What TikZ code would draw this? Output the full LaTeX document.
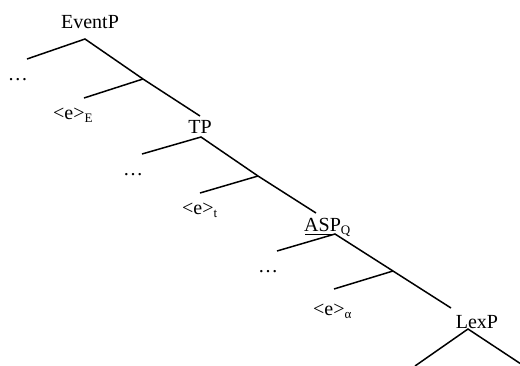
\documentclass[tikz,border=0pt]{standalone}
\usepackage{fontspec}
\setmainfont{Liberation Serif}
\newcommand{\lowsub}[1]{\raisebox{-3.5pt}{\fontsize{13}{13}\selectfont #1}}
\begin{document}
\begin{tikzpicture}[x=1pt,y=-1pt,
  lab/.style={inner sep=0pt,font=\fontsize{20}{21}\selectfont},
  br/.style={line width=1.5pt}]
\useasboundingbox (0,0) rectangle (520,365);
% labels
\node[lab,anchor=base] (ev) at (90,28) {EventP};
\node[lab,anchor=base] (tp) at (200,133) {TP};
\node[lab,anchor=base west] (asp) at (304,231) {ASP\lowsub{Q}};
\node[lab,anchor=base] (lex) at (477,328) {LexP};
\node[lab,anchor=base] (d1) at (18,80) {\ldots};
\node[lab,anchor=base] (d2) at (133,175) {\ldots};
\node[lab,anchor=base] (d3) at (268,272) {\ldots};
\node[lab,anchor=base west] (e1) at (53,119) {<e>\lowsub{E}};
\node[lab,anchor=base west] (e2) at (182,214) {<e>\lowsub{t}};
\node[lab,anchor=base west] (e3) at (313,315) {<e>\lowsub{α}};
% tree points
\coordinate (evtop) at (85,39);
\coordinate (evl) at (27,59);
\coordinate (m1) at (143,79);
\coordinate (m1l) at (84,98);
\coordinate (tpin) at (200,116);
\coordinate (tptop) at (201,137);
\coordinate (tpl) at (142,154);
\coordinate (m2) at (258,176);
\coordinate (m2l) at (200,193);
\coordinate (aspin) at (316,213);
\coordinate (ul) at (305,234);
\coordinate (asptop) at (335,234);
\coordinate (aspl) at (277,251);
\coordinate (m3) at (393,271);
\coordinate (m3l) at (334,289);
\coordinate (lexin) at (451,308);
\coordinate (lextop) at (468,329);
\coordinate (lexl) at (415,366);
\coordinate (lexr) at (521,364);
% branches
\draw[br] (evl) -- (evtop) -- (m1) -- (tpin);
\draw[br] (m1l) -- (m1);
\draw[br] (tpl) -- (tptop) -- (m2) -- (aspin);
\draw[br] (m2l) -- (m2);
\draw[line width=1pt] (ul) -- (asptop);
\draw[br] (aspl) -- (asptop) -- (m3) -- (lexin);
\draw[br] (m3l) -- (m3);
\draw[br] (lexl) -- (lextop) -- (lexr);
\end{tikzpicture}
\end{document}
